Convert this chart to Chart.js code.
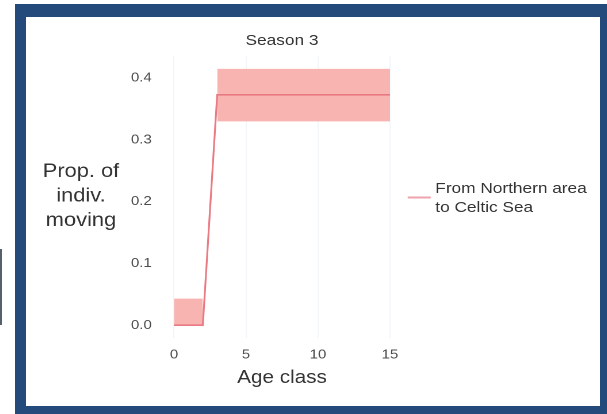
<!DOCTYPE html>
<html>
<head>
<meta charset="utf-8">
<script src="https://cdn.jsdelivr.net/npm/chart.js@4.4.1/dist/chart.umd.min.js"></script>
<style>
  html, body { margin: 0; padding: 0; background: #ffffff; }
  body { width: 607px; height: 414px; position: relative; overflow: hidden; }
  #edge { position: absolute; left: 0; top: 249px; width: 2px; height: 76px; background: #56606a; }
  #frame { position: absolute; left: 15px; top: 4px; width: 592px; height: 410px; background: #234a7b; }
  #panel { position: absolute; left: 26px; top: 17px; width: 574px; height: 389px; background: #ffffff; overflow: hidden; }
  #wrap { position: absolute; left: 0; top: 0; width: 499px; height: 389px; transform: scaleX(1.15); transform-origin: 0 0; }
  canvas { display: block; }
</style>
</head>
<body>
<div id="edge"></div>
<div id="frame"></div>
<div id="panel"><div id="wrap"><canvas id="c" width="499" height="389"></canvas></div></div>
<script>
// Age classes and the estimated proportion of individuals moving
const ages       = [0, 1, 2, 3, 4, 5, 6, 7, 8, 9, 10, 11, 12, 13, 14, 15];
const proportion = [0, 0, 0, 0.373, 0.373, 0.373, 0.373, 0.373, 0.373, 0.373, 0.373, 0.373, 0.373, 0.373, 0.373, 0.373];
const lowerBound = [0, 0, 0, 0.33, 0.33, 0.33, 0.33, 0.33, 0.33, 0.33, 0.33, 0.33, 0.33, 0.33, 0.33, 0.33];
const upperBound = [0.043, 0.043, 0.043, 0.415, 0.415, 0.415, 0.415, 0.415, 0.415, 0.415, 0.415, 0.415, 0.415, 0.415, 0.415, 0.415];
// Age groups over which the uncertainty band is drawn as one piece
const bandGroups = [[0, 2], [3, 15]];
const xTicks = [0, 5, 10, 15];
const yTicks = [0, 0.1, 0.2, 0.3, 0.4];
const seriesName = ['From Northern area', 'to Celtic Sea'];
const chartTitle = 'Season 3';
const xTitle = 'Age class';
const yTitle = ['Prop. of', 'indiv.', 'moving'];

const lineColor = '#e97a83';
const bandColor = '#f7b4b1';

const pts = (vals, from, to) => ages
  .map((a, i) => ({ x: a, y: vals[i] }))
  .filter(p => p.x >= from && p.x <= to);

const datasets = [{
  label: seriesName.join(' '),
  data: ages.map((a, i) => ({ x: a, y: proportion[i] })),
  borderColor: lineColor,
  borderWidth: 1.6,
  pointRadius: 0,
  fill: false,
  tension: 0,
  order: 0
}];
bandGroups.forEach(([from, to]) => {
  const lowIdx = datasets.length;
  datasets.push({
    label: 'lower', data: pts(lowerBound, from, to),
    borderWidth: 0, pointRadius: 0, fill: false, order: 1
  });
  datasets.push({
    label: 'upper', data: pts(upperBound, from, to),
    borderWidth: 0, pointRadius: 0, backgroundColor: bandColor,
    fill: { target: lowIdx }, order: 1
  });
});

// Horizontal y-axis title on the left and a two-line legend on the right
const sideText = {
  id: 'sideText',
  afterDraw(chart) {
    const { ctx, chartArea } = chart;
    ctx.save();
    ctx.fillStyle = '#333333';
    ctx.textBaseline = 'middle';
    ctx.textAlign = 'center';
    ctx.font = '19px "Liberation Sans", Arial, sans-serif';
    const cx = chartArea.left - 71.5;
    yTitle.forEach((t, i) => ctx.fillText(t, cx, 155 + i * 24.5));

    const lx = chartArea.right + 6;
    ctx.strokeStyle = '#eea3ab';
    ctx.lineWidth = 2;
    ctx.beginPath();
    ctx.moveTo(lx, 180.5);
    ctx.lineTo(lx + 20, 180.5);
    ctx.stroke();
    ctx.textAlign = 'left';
    ctx.font = '15px "Liberation Sans", Arial, sans-serif';
    seriesName.forEach((t, i) => ctx.fillText(t, lx + 24, 172 + i * 19));
    ctx.restore();
  }
};

new Chart(document.getElementById('c'), {
  type: 'line',
  data: { datasets },
  plugins: [sideText],
  options: {
    responsive: false,
    animation: false,
    devicePixelRatio: 2,
    layout: { padding: { left: 79.3, right: 173.1, top: 0, bottom: 17.2 } },
    plugins: {
      legend: { display: false },
      tooltip: { enabled: false },
      filler: { drawTime: 'beforeDatasetsDraw' },
      title: {
        display: true,
        text: chartTitle,
        fullSize: false,
        color: '#333333',
        font: { family: '"Liberation Sans", Arial, sans-serif', size: 15, weight: 'normal' },
        padding: { top: 15, bottom: 6 }
      }
    },
    scales: {
      x: {
        type: 'linear',
        min: -0.75,
        max: 15.75,
        afterFit: s => { s.height = 50.8; },
        afterBuildTicks: s => { s.ticks = xTicks.map(v => ({ value: v })); },
        ticks: {
          color: '#4d4d4d',
          padding: 9,
          font: { family: '"Liberation Sans", Arial, sans-serif', size: 13 },
          callback: v => String(v)
        },
        grid: { color: 'rgba(215,225,235,0.35)', drawTicks: false },
        border: { display: false },
        title: {
          display: true,
          text: xTitle,
          color: '#333333',
          padding: { top: 0, bottom: 0 },
          font: { family: '"Liberation Sans", Arial, sans-serif', size: 18 }
        }
      },
      y: {
        type: 'linear',
        min: -0.02075,
        max: 0.43575,
        afterFit: s => { s.width = 40; },
        afterBuildTicks: s => { s.ticks = yTicks.map(v => ({ value: v })); },
        ticks: {
          color: '#4d4d4d',
          padding: 10,
          font: { family: '"Liberation Sans", Arial, sans-serif', size: 13 },
          callback: v => Number(v).toFixed(1)
        },
        grid: { display: false, drawTicks: false },
        border: { display: false }
      }
    }
  }
});
</script>
</body>
</html>
